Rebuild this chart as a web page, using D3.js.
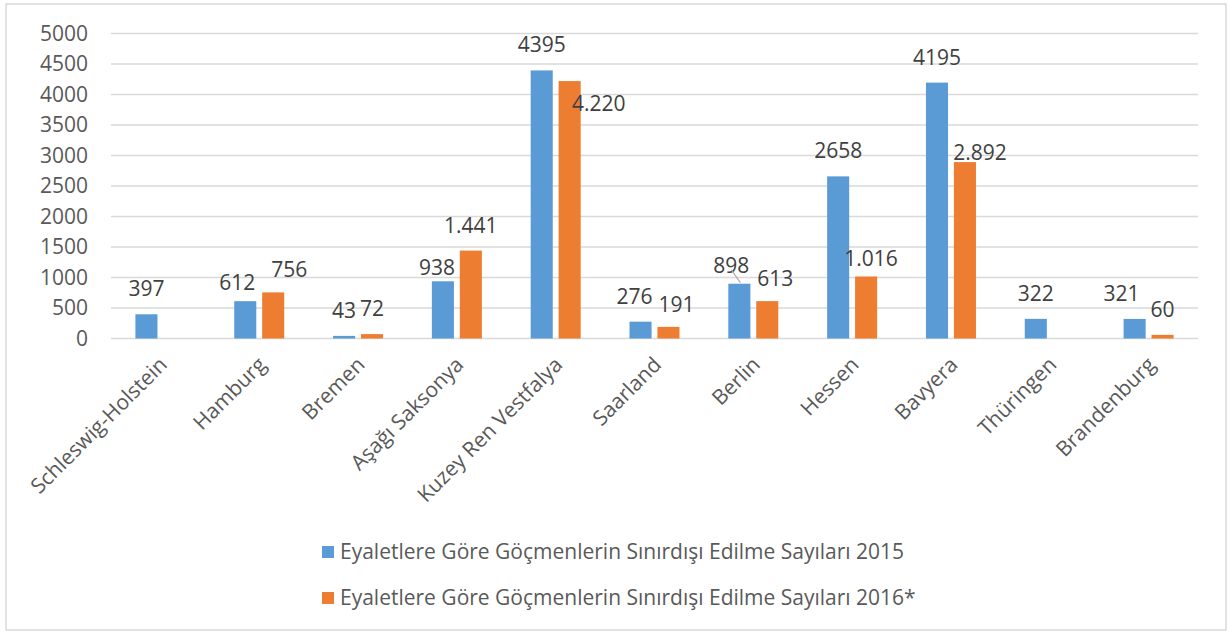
<!DOCTYPE html>
<html lang="tr">
<head>
<meta charset="UTF-8">
<title>Eyaletlere Göre Sınırdışı Edilme Sayıları</title>
<script src="https://d3js.org/d3.v7.min.js"></script>
<style>
    body { margin: 0; background: #fff; font-family: "Open Sans", "Noto Sans", sans-serif; }
    .tick-label { font-size: 21px; fill: #595959; }
    .cat-label { font-size: 21px; fill: #595959; }
    .value-label { font-size: 21px; fill: #404040; }
    .legend-label { font-size: 21px; fill: #595959; }
</style>
</head>
<body>
<div id="chart"></div>
<script>
const states = ["Schleswig-Holstein", "Hamburg", "Bremen", "Aşağı Saksonya", "Kuzey Ren Vestfalya",
    "Saarland", "Berlin", "Hessen", "Bavyera", "Thüringen", "Brandenburg"];
const values2015 = [397, 612, 43, 938, 4395, 276, 898, 2658, 4195, 322, 321];
const values2016 = [null, 756, 72, 1441, 4220, 191, 613, 1016, 2892, null, 60];
const seriesNames = ["Eyaletlere Göre Göçmenlerin Sınırdışı Edilme Sayıları 2015",
    "Eyaletlere Göre Göçmenlerin Sınırdışı Edilme Sayıları 2016*"];
const yTicks = [0, 500, 1000, 1500, 2000, 2500, 3000, 3500, 4000, 4500, 5000];

// hand-moved data labels in the original (pixel nudges from default spot)
const nudge2015 = { 1: [-8, 7], 3: [-6, 12], 5: [-6, 0], 6: [-8, 7], 10: [-13, 0] };
const nudge2016 = { 1: [16, 3], 4: [29, 48], 5: [8, 3], 6: [8, 3], 7: [5, 7], 8: [15, 16] };

const W = 1229, H = 634;
const colors = ["#5b9bd5", "#ed7d31"];

const svg = d3.select("#chart").append("svg")
    .attr("width", W).attr("height", H);

// outer frame
svg.append("rect")
    .attr("x", 6).attr("y", 4).attr("width", 1220).attr("height", 626)
    .attr("fill", "#fff").attr("stroke", "#d9d9d9").attr("stroke-width", 1.5);

const x0 = d3.scaleBand().domain(states).range([111, 1198])
    .paddingInner(0.494).paddingOuter(0.247);
const x1 = d3.scaleBand().domain([0, 1]).range([0, x0.bandwidth()]).paddingInner(0.21);
const y = d3.scaleLinear().domain([0, 5000]).range([338.5, 33.5]);

// gridlines
svg.append("g").selectAll("line")
    .data(yTicks).enter().append("line")
    .attr("x1", 111).attr("x2", 1198)
    .attr("y1", d => y(d)).attr("y2", d => y(d))
    .attr("stroke", "#d9d9d9").attr("stroke-width", 1.5);

// y axis labels
const yAxis = d3.axisLeft(y).tickValues(yTicks).tickFormat(d3.format("d")).tickSize(0).tickPadding(0);
const yg = svg.append("g").attr("transform", "translate(88,0)").call(yAxis);
yg.select(".domain").remove();
yg.attr("font-size", null).attr("font-family", null);
yg.selectAll("text").attr("class", "tick-label").attr("fill", null);

const rows = states.map((s, i) => ({ state: s, i, vals: [values2015[i], values2016[i]] }));

// bars
const bars = [];
rows.forEach(r => r.vals.forEach((v, k) => { if (v != null) bars.push({ state: r.state, i: r.i, k, v }); }));

svg.append("g").selectAll("rect")
    .data(bars).enter().append("rect")
    .attr("x", d => x0(d.state) + x1(d.k))
    .attr("width", x1.bandwidth())
    .attr("y", d => y(d.v))
    .attr("height", d => y(0) - y(d.v))
    .attr("fill", d => colors[d.k]);

// value labels
const fmt2016 = d => d >= 1000 ? d3.format(",")(d).replace(/,/g, ".") : String(d);
svg.append("g").selectAll("text")
    .data(bars).enter().append("text")
    .attr("class", "value-label")
    .attr("text-anchor", "middle")
    .attr("x", d => {
        const n = (d.k === 0 ? nudge2015 : nudge2016)[d.i];
        return x0(d.state) + x1(d.k) + x1.bandwidth() / 2 + (n ? n[0] : 0);
    })
    .attr("y", d => {
        const n = (d.k === 0 ? nudge2015 : nudge2016)[d.i];
        return y(d.v) - 18 + (n ? n[1] : 0);
    })
    .text(d => d.k === 0 ? String(d.v) : fmt2016(d.v));

// leader line for Berlin 2015 label
const berlinX = x0("Berlin") + x1(0) + x1.bandwidth() / 2;
svg.append("line")
    .attr("x1", berlinX - 8).attr("y1", y(898) - 14)
    .attr("x2", berlinX + 1).attr("y2", y(898) - 1)
    .attr("stroke", "#a6a6a6").attr("stroke-width", 1.2);

// category labels
svg.append("g").selectAll("text")
    .data(states).enter().append("text")
    .attr("class", "cat-label")
    .attr("text-anchor", "end")
    .attr("transform", d => `translate(${x0(d) + x0.bandwidth() / 2 + 8},366) rotate(-45)`)
    .text(d => d);

// legend
const legend = svg.append("g").selectAll("g")
    .data(seriesNames).enter().append("g")
    .attr("transform", (d, i) => `translate(322,${552 + i * 46})`);
legend.append("rect")
    .attr("x", 0).attr("y", -6).attr("width", 12).attr("height", 12)
    .attr("fill", (d, i) => colors[i]);
legend.append("text")
    .attr("class", "legend-label")
    .attr("x", 18).attr("dy", "0.35em")
    .text(d => d);
</script>
</body>
</html>
